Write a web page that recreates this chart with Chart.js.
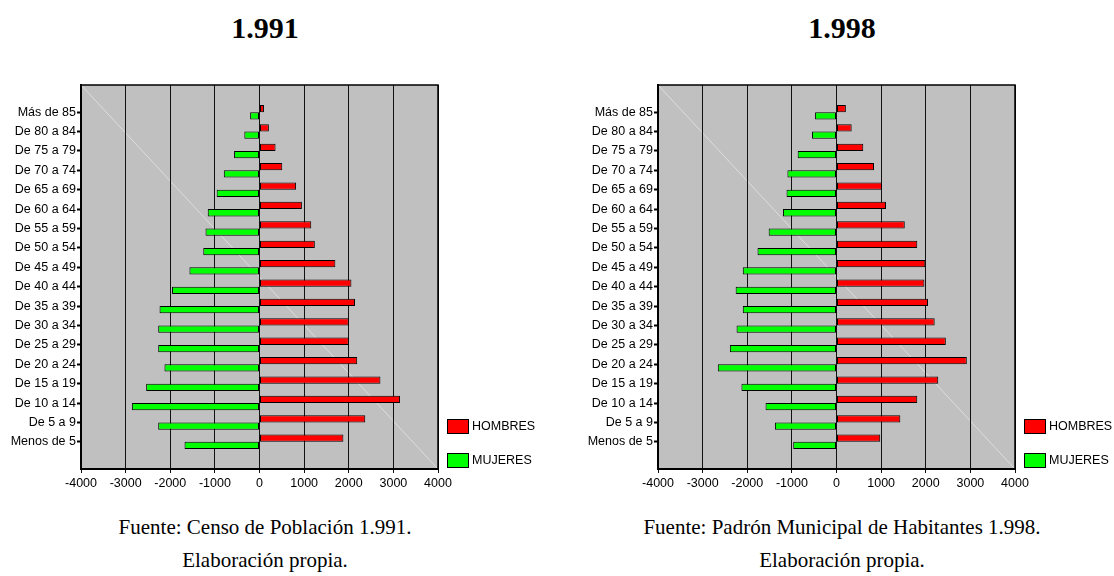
<!DOCTYPE html>
<html><head><meta charset="utf-8">
<script src="https://cdn.jsdelivr.net/npm/chart.js@4"></script>
<style>
html,body{margin:0;padding:0;background:#fff;}
#page{position:relative;width:1114px;height:576px;overflow:hidden;font-family:"Liberation Serif","Times New Roman",serif;color:#000;}
.title{position:absolute;top:13px;width:300px;text-align:center;font-weight:bold;font-size:30px;line-height:30px;}
.cap{position:absolute;width:500px;text-align:center;font-size:21px;line-height:21px;white-space:nowrap;}
.chartbox{position:absolute;top:0;width:460px;height:500px;}
.legend{position:absolute;top:0;left:0;font-family:"Liberation Sans",Arial,sans-serif;font-size:12.5px;}
.li{position:absolute;white-space:nowrap;height:15px;}
.sw{position:absolute;left:0;top:0;width:20px;height:13px;border:1px solid #000;}
.lt{position:absolute;left:25px;top:0;line-height:15px;}
</style>
</head><body>
<div id="page">
  <div class="title" style="left:115px">1.991</div>
  <div class="title" style="left:692px">1.998</div>
  <div class="chartbox" style="left:0"><canvas id="c1"></canvas></div>
  <div class="chartbox" style="left:577px"><canvas id="c2"></canvas></div>
  <div id="leg1" class="legend"></div>
  <div id="leg2" class="legend"></div>
  <div class="cap" style="left:15px;top:517px">Fuente: Censo de Población 1.991.</div>
  <div class="cap" style="left:15px;top:550px">Elaboración propia.</div>
  <div class="cap" style="left:592px;top:517px">Fuente: Padrón Municipal de Habitantes 1.998.</div>
  <div class="cap" style="left:592px;top:550px">Elaboración propia.</div>
</div>
<script>
// Age groups, bottom (index 0) to top
const categories = ["Menos de 5","De 5 a 9","De 10 a 14","De 15 a 19","De 20 a 24","De 25 a 29","De 30 a 34","De 35 a 39","De 40 a 44","De 45 a 49","De 50 a 54","De 55 a 59","De 60 a 64","De 65 a 69","De 70 a 74","De 75 a 79","De 80 a 84","Más de 85"];
const seriesNames = ["HOMBRES","MUJERES"];
const seriesColors = ["#FF0000","#00FF00"];
const hombres1991 = [1880, 2370, 3150, 2710, 2190, 2000, 2000, 2140, 2060, 1700, 1240, 1160, 950, 820, 510, 360, 210, 100];
const mujeres1991 = [1680, 2270, 2860, 2540, 2130, 2270, 2270, 2240, 1960, 1570, 1260, 1210, 1160, 960, 800, 570, 340, 210];
const hombres1998 = [980, 1430, 1810, 2280, 2920, 2450, 2200, 2050, 1970, 1990, 1810, 1530, 1110, 1020, 840, 600, 340, 210];
const mujeres1998 = [970, 1380, 1590, 2130, 2660, 2390, 2240, 2100, 2260, 2100, 1770, 1520, 1200, 1120, 1100, 870, 550, 480];
const xTicks = [-4000, -3000, -2000, -1000, 0, 1000, 2000, 3000, 4000];

const plotFrame = {
  id: 'plotFrame',
  beforeDraw(chart) {
    const {ctx, chartArea: a} = chart;
    ctx.save();
    ctx.fillStyle = '#C0C0C0';
    ctx.fillRect(a.left, a.top, a.right - a.left, a.bottom - a.top);
    ctx.strokeStyle = '#dedede';
    ctx.lineWidth = 1;
    ctx.beginPath();
    ctx.moveTo(a.left, a.top);
    ctx.lineTo(a.right, a.bottom);
    ctx.stroke();
    ctx.restore();
  },
  afterDraw(chart) {
    const {ctx, chartArea: a} = chart;
    ctx.save();
    ctx.strokeStyle = '#000';
    ctx.lineWidth = 1.5;
    ctx.beginPath();
    ctx.moveTo(a.left, a.top);
    ctx.lineTo(a.right, a.top);
    ctx.lineTo(a.right, a.bottom);
    ctx.stroke();
    ctx.restore();
  }
};

const tickFont = {family: "'Liberation Sans', Arial, sans-serif", size: 12.5};

function makeChart(id, legId, legLeft, hombres, mujeres) {
  const chart = new Chart(document.getElementById(id), {
    type: 'bar',
    data: {
      datasets: [
        {label: seriesNames[0], data: hombres.map((v, i) => ({x: v, y: i})), backgroundColor: seriesColors[0]},
        {label: seriesNames[1], data: mujeres.map((v, i) => ({x: -v, y: i})), backgroundColor: seriesColors[1]}
      ]
    },
    options: {
      indexAxis: 'y',
      responsive: true,
      maintainAspectRatio: false,
      animation: false,
      devicePixelRatio: 1,
      layout: {padding: {top: 85, right: 22, bottom: 1, left: 0}},
      datasets: {bar: {borderColor: '#000', borderWidth: 1, borderSkipped: false, categoryPercentage: 0.75, barPercentage: 1}},
      plugins: {legend: {display: false}, tooltip: {enabled: false}},
      scales: {
        x: {
          type: 'linear', min: -4000, max: 4000,
          afterBuildTicks: s => { s.ticks = xTicks.map(v => ({value: v})); },
          afterFit: s => { s.height = 30; },
          ticks: {font: tickFont, color: '#000', padding: 3, maxRotation: 0, autoSkip: false, callback: v => String(v)},
          grid: {color: '#111', lineWidth: 1, tickLength: 4, drawTicks: true},
          border: {color: '#000', width: 2}
        },
        y: {
          type: 'linear', min: -1.4, max: categories.length - 1 + 1.4,
          offset: false,
          afterBuildTicks: s => { s.ticks = categories.map((c, i) => ({value: i})); },
          afterFit: s => { s.width = 81; },
          ticks: {font: tickFont, color: '#000', padding: 1, autoSkip: false, callback: v => categories[v]},
          grid: {offset: false, drawOnChartArea: false, drawTicks: true, tickLength: 4, tickWidth: 2, tickColor: '#000'},
          border: {color: '#000', width: 2}
        }
      }
    },
    plugins: [plotFrame]
  });
  const leg = document.getElementById(legId);
  chart.data.datasets.forEach((ds, k) => {
    const item = document.createElement('div');
    item.className = 'li';
    item.style.left = legLeft + 'px';
    item.style.top = (419 + k * 34) + 'px';
    item.innerHTML = '<span class="sw" style="background:' + ds.backgroundColor + '"></span><span class="lt">' + ds.label + '</span>';
    leg.appendChild(item);
  });
  return chart;
}

makeChart('c1', 'leg1', 447, hombres1991, mujeres1991);
makeChart('c2', 'leg2', 1024, hombres1998, mujeres1998);
</script>
</body></html>
